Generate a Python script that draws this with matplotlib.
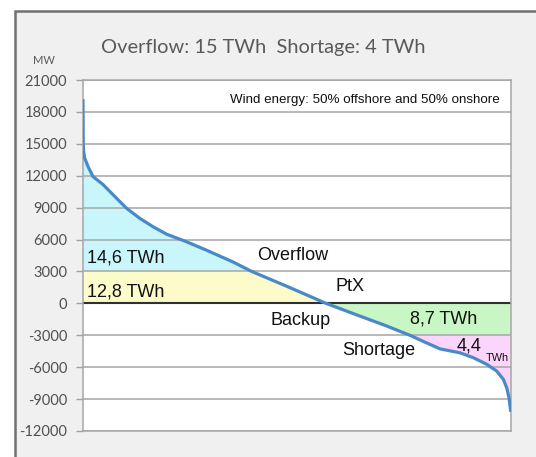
import matplotlib.pyplot as plt
import numpy as np
from matplotlib.patches import Rectangle

# load duration curve (hours sorted, MW)
hours = [0, 2, 5, 12, 35, 102, 205, 415, 620, 894, 1167, 1439, 1713, 2088,
         2532, 3076, 3453, 4200, 4974, 5670, 6200, 6690, 7000, 7308, 7717,
         7990, 8264, 8469, 8604, 8673, 8720, 8755]
mw = [19200, 17000, 15000, 14300, 13660, 12870, 11920, 11150, 10190, 8930,
      7980, 7190, 6500, 5850, 4990, 3880, 3000, 1550, 0, -1200, -2100, -3000,
      -3650, -4280, -4650, -5110, -5730, -6370, -7150, -7950, -8890, -10200]

yticks = [21000, 18000, 15000, 12000, 9000, 6000, 3000, 0,
          -3000, -6000, -9000, -12000]
title = "Overflow: 15 TWh  Shortage: 4 TWh"
subtitle = "Wind energy: 50% offshore and 50% onshore"

H = np.array(hours)
P = np.array(mw)

W, Hpx = 536, 457
fig = plt.figure(figsize=(W / 100, Hpx / 100), dpi=100)
fig.patch.set_facecolor("white")

# outer grey frame (Excel chart area)
fig.patches.append(Rectangle((15 / W, -0.05), 1.1, 1 - 11 / Hpx + 0.05,
                             transform=fig.transFigure, facecolor="#f0f0f0",
                             edgecolor="#707070", lw=1.8, zorder=-10))

ax = fig.add_axes([83 / W, 1 - 431 / Hpx, (511 - 83) / W, (431 - 80) / Hpx])
ax.set_facecolor("white")

ax.fill_between(H, 3000, P, where=P >= 3000, facecolor="#c8f6fb", lw=0, zorder=1)
ax.fill_between(H, 0, np.clip(P, 0, 3000), facecolor="#fdfbc9", lw=0, zorder=1)
ax.fill_between(H, np.clip(P, -3000, 0), 0, facecolor="#c8f6c4", lw=0, zorder=1)
ax.fill_between(H, P, -3000, where=P <= -3000, facecolor="#fbd5fb", lw=0, zorder=1)

for v in yticks:
    if v == 0:
        ax.axhline(v, color="#303030", lw=1.5, zorder=2)
    else:
        ax.axhline(v, color="#a6a6a6", lw=1.1, zorder=2)

ax.plot(H, P, color="#4a89c8", lw=2.3, zorder=3, solid_capstyle="butt",
        solid_joinstyle="round")

ax.set_xlim(0, 8760)
ax.set_ylim(-12000, 21000)
ax.set_xticks([])
ax.set_yticks(yticks)
ax.set_yticklabels([str(v) for v in yticks], family="Lato", fontsize=10.5,
                   color="#505050")
ax.tick_params(axis="y", length=5, width=1, color="#a0a0a0", pad=6.5)
for s in ax.spines.values():
    s.set_color("#a6a6a6")
    s.set_linewidth(1.1)

fig.text(101 / W, 1 - 48 / Hpx, title, family="Lato", fontsize=14.4,
         color="#595959", va="center", ha="left")
fig.text(44 / W, 1 - 60 / Hpx, "MW", family="Lato", fontsize=8,
         color="#595959", va="center", ha="center")

txt = dict(family="Liberation Sans", color="#111111", va="center")
ax.text(8530, 19100, subtitle, fontsize=9.6, ha="right", **txt)
ax.text(90, 4290, "14,6 TWh", fontsize=13, ha="left", **txt)
ax.text(3560, 4510, "Overflow", fontsize=13, ha="left", **txt)
ax.text(90, 1100, "12,8 TWh", fontsize=13, ha="left", **txt)
ax.text(5160, 1580, "PtX", fontsize=13, ha="left", **txt)
ax.text(3830, -1640, "Backup", fontsize=13, ha="left", **txt)
ax.text(6690, -1450, "8,7 TWh", fontsize=13, ha="left", **txt)
ax.text(5300, -4470, "Shortage", fontsize=13, ha="left", **txt)
ax.text(7650, -4000, "4,4", fontsize=13, ha="left", **txt)
ax.text(8240, -5150, "TWh", fontsize=7.8, ha="left", **txt)

fig.savefig("out.png", dpi=100)
